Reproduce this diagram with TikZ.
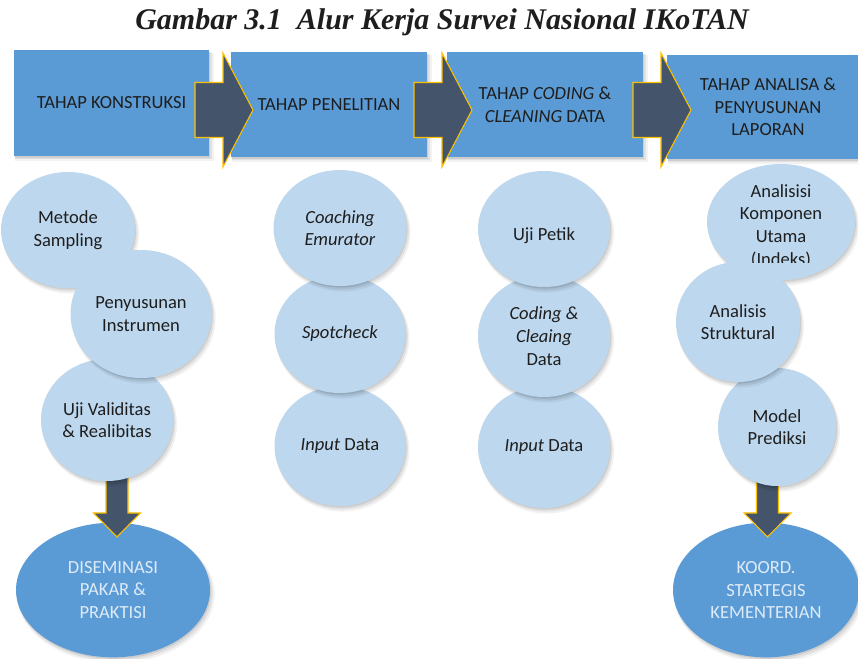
\documentclass[tikz,border=0pt]{standalone}
\usepackage{fontspec}
\setmainfont{Carlito}
\newfontfamily\headfont{Liberation Serif}
\usetikzlibrary{shapes.geometric,shadows}

\definecolor{stageblue}{HTML}{5B9BD5}
\definecolor{bubbleblue}{HTML}{BDD7EE}
\definecolor{slatefill}{HTML}{44546A}
\definecolor{goldline}{HTML}{FFC000}
\definecolor{inktext}{HTML}{1E1E1E}
\definecolor{paletext}{HTML}{DEEBF7}

\newcommand{\bodysize}{\fontsize{13.9}{17}\selectfont}

% block arrow pointing right: shaft starts at the given coordinate (shaft mid-line)
\newcommand{\stagearrow}[1]{%
  \draw[flowarrow] (#1) ++(0,-27.5) -- ++(28,0) -- ++(0,-29.5) -- ++(30,57)
    -- ++(-30,57) -- ++(0,-29.5) -- ++(-28,0) -- cycle;}
% block arrow pointing down: given coordinate is the centre of the head base
\newcommand{\droparrow}[1]{%
  \draw[flowarrow] (#1) ++(-11,-45) -- ++(0,45) -- ++(-12.5,0) -- ++(23.5,24)
    -- ++(23.5,-24) -- ++(-12.5,0) -- ++(0,-45) -- cycle;}

\tikzset{
  softshadow/.style={
    general shadow={fill=black, opacity=0.09, shadow xshift=0.8pt, shadow yshift=-1.2pt},
    general shadow={fill=black, opacity=0.07, shadow xshift=1.4pt, shadow yshift=-2.2pt, shadow scale=1.01},
    general shadow={fill=black, opacity=0.05, shadow xshift=2pt, shadow yshift=-3.2pt, shadow scale=1.02}},
  stagebox/.style={rectangle, fill=stageblue, text=inktext, align=center,
    font=\bodysize, inner sep=0pt, softshadow},
  bubble/.style={ellipse, fill=bubbleblue, text=inktext, align=center,
    font=\bodysize, inner sep=0pt, softshadow},
  bubbletext/.style={text=inktext, align=center, font=\bodysize, inner sep=0pt},
  outcome/.style={ellipse, fill=stageblue, text=paletext, align=center,
    font=\bodysize, inner sep=0pt, softshadow},
  flowarrow/.style={fill=slatefill, draw=goldline, line width=0.8pt, line join=miter},
}

\begin{document}
\begin{tikzpicture}[x=0.75pt,y=-0.75pt]
\useasboundingbox (0,0) rectangle (858,659);
\clip (0,0) rectangle (858,659);

% title
\node[font=\headfont\bfseries\itshape\fontsize{22.5}{26}\selectfont, text=inktext]
  (title) at (442,22) {Gambar 3.1\ \ Alur Kerja Survei Nasional IKoTAN};

% stage headers
\node[stagebox, minimum width=146.25pt, minimum height=79.5pt] (s1) at (111.5,103)
  {TAHAP KONSTRUKSI};
\node[stagebox, minimum width=147pt, minimum height=78.75pt] (s2) at (329,104.5)
  {TAHAP PENELITIAN};
\node[stagebox, minimum width=147pt, minimum height=78.75pt] (s3) at (545,104.5)
  {TAHAP \textit{CODING} \&\\\textit{CLEANING} DATA};
\node[stagebox, minimum width=151.5pt, minimum height=78pt] (s4) at (768,107)
  {TAHAP ANALISA \&\\PENYUSUNAN\\LAPORAN};

% arrows between stages
\coordinate (a1) at (195,110);
\coordinate (a2) at (414,110);
\coordinate (a3) at (633,110);
\stagearrow{a1}
\stagearrow{a2}
\stagearrow{a3}

% final outcomes
\node[outcome, minimum width=145.5pt, minimum height=101pt] (dis) at (113,590)
  {DISEMINASI\\PAKAR \&\\PRAKTISI};
\node[outcome, minimum width=139.5pt, minimum height=101pt] (koord) at (766,590)
  {KOORD.\\STARTEGIS\\KEMENTERIAN};
\coordinate (d1) at (117,513);
\coordinate (d4) at (767.5,513);
\droparrow{d1}
\droparrow{d4}

% column 1: construction
\node[bubble, minimum width=100.5pt, minimum height=87pt] (ms) at (68,230)
  {Metode\\Sampling};
\node[bubble, minimum width=99pt, minimum height=91.5pt] (uv) at (107,420)
  {Uji Validitas\\\& Realibitas};
\node[bubble, minimum width=105.75pt, minimum height=96pt] (pi) at (141,314)
  {Penyusunan\\Instrumen};

% column 2: fieldwork
\node[bubble, minimum width=98.25pt, minimum height=90pt] (in2) at (340,446)
  {\textit{Input} Data};
\node[bubble, minimum width=98.25pt, minimum height=88.5pt] (sc) at (340,334)
  {\textit{Spotcheck}};
\node[bubble, minimum width=99.75pt, minimum height=87pt] (ce) at (340,228)
  {\textit{Coaching}\\\textit{Emurator}};

% column 3: coding and cleaning
\node[bubble, minimum width=99pt, minimum height=91.5pt] (in3) at (544,447)
  {\textit{Input} Data};
\node[bubble, minimum width=99pt, minimum height=91.5pt] (cc) at (544,336)
  {\textit{Coding \&}\\\textit{Cleaing}\\Data};
\node[bubble, minimum width=99pt, minimum height=87pt, text depth=0pt, text height=18pt]
  (up) at (544,229) {Uji Petik};

% column 4: analysis
\node[bubble, minimum width=88.5pt, minimum height=88.5pt] (mp) at (777,427)
  {Model\\Prediksi};
\node[bubble, minimum width=111pt, minimum height=87pt] (pca) at (781,222) {};
\begin{scope}
  \clip (690,150) rectangle (858,263);
  \node[bubbletext] (pcatext) at (781,226)
    {Analisisi\\Komponen\\Utama\\(Indeks)};
\end{scope}
\node[bubble, minimum width=93pt, minimum height=90pt] (as) at (738,322)
  {Analisis\\Struktural};
\end{tikzpicture}
\end{document}
